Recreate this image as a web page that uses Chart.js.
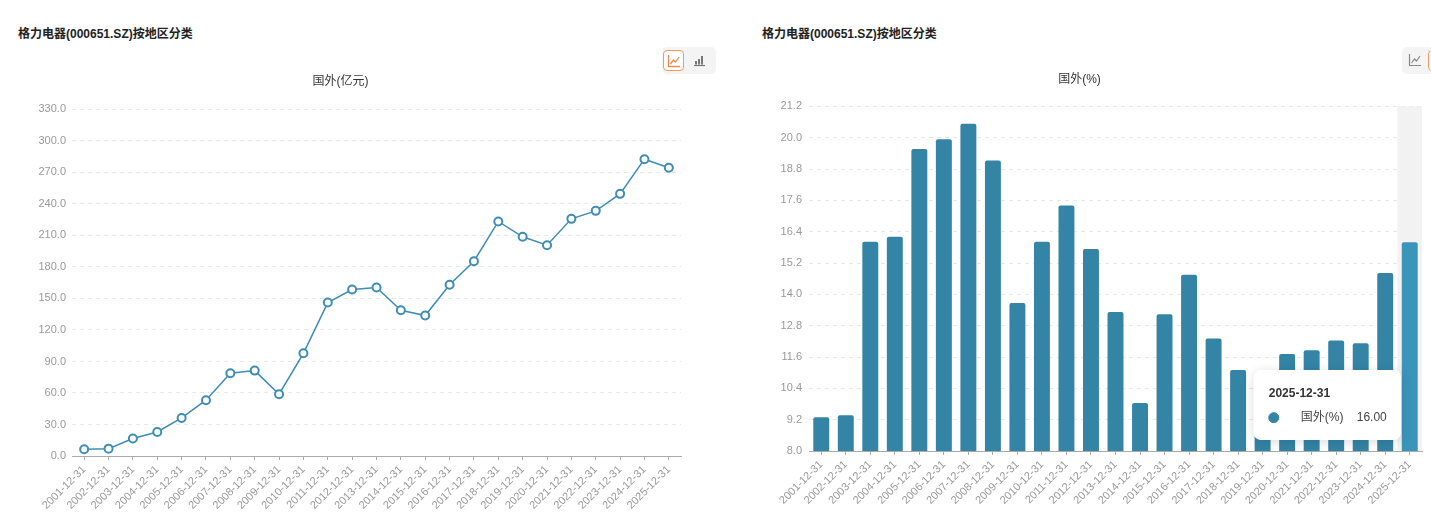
<!DOCTYPE html>
<html>
<head>
<meta charset="utf-8">
<script src="https://cdn.jsdelivr.net/npm/chart.js@4.4.1/dist/chart.umd.min.js"></script>
<style>
  body { margin: 0; width: 1431px; height: 515px; overflow: hidden; background: #fff; position: relative;
         font-family: "Helvetica Neue", Arial, "Liberation Sans", "Noto Sans CJK SC", sans-serif; }
  .title { position: absolute; top: 24px; font-size: 12px; font-weight: bold; color: #222; white-space: nowrap; }
  .tools { position: absolute; top: 47px; width: 54px; height: 27px; background: #f4f4f4; border-radius: 5px; }
  .btn { position: absolute; top: 3px; width: 19px; height: 19px; border-radius: 4px; }
  .btn.on { border: 1.5px solid #f49a5f; background: #fff; }
  .btn svg { position: absolute; left: 3px; top: 3px; }
  .panel { position: absolute; top: 60px; width: 720px; height: 455px; }
</style>
</head>
<body>
<div class="title" style="left:18px">格力电器(000651.SZ)按地区分类</div>
<div class="title" style="left:762px">格力电器(000651.SZ)按地区分类</div>

<div class="tools" style="left:662px">
  <div class="btn on" style="left:1px">
    <svg width="14" height="14" viewBox="0 0 14 14"><path d="M1.5 1v11.5H13" fill="none" stroke="#f08a4b" stroke-width="1.3"/><path d="M3.5 10l3-4 2 2 3.5-5" fill="none" stroke="#f08a4b" stroke-width="1.3"/></svg>
  </div>
  <div class="btn" style="left:27px">
    <svg width="14" height="14" viewBox="0 0 14 14"><path d="M2 12.5h11" stroke="#777" stroke-width="1.2"/><rect x="3" y="8" width="2" height="3.5" fill="#777"/><rect x="6" y="6" width="2" height="5.5" fill="#777"/><rect x="9" y="3" width="2" height="8.5" fill="#777"/></svg>
  </div>
</div>
<div class="tools" style="left:1402px">
  <div class="btn" style="left:3px">
    <svg width="14" height="14" viewBox="0 0 14 14"><path d="M1.5 1v11.5H13" fill="none" stroke="#888" stroke-width="1.2"/><path d="M3.5 10l3-4 2 2 3.5-5" fill="none" stroke="#888" stroke-width="1.2"/></svg>
  </div>
  <div class="btn on" style="left:26px">
    <svg width="14" height="14" viewBox="0 0 14 14"><path d="M2 12.5h11" stroke="#f08a4b" stroke-width="1.2"/><rect x="3" y="8" width="2" height="3.5" fill="#f08a4b"/><rect x="6" y="6" width="2" height="5.5" fill="#f08a4b"/><rect x="9" y="3" width="2" height="8.5" fill="#f08a4b"/></svg>
  </div>
</div>

<div class="panel" style="left:0px"><canvas id="amountChart"></canvas></div>
<div class="panel" style="left:737px"><canvas id="shareChart"></canvas></div>

<script>
// 报告期
const periods = ['2001-12-31', '2002-12-31', '2003-12-31', '2004-12-31', '2005-12-31', '2006-12-31',
  '2007-12-31', '2008-12-31', '2009-12-31', '2010-12-31', '2011-12-31', '2012-12-31', '2013-12-31',
  '2014-12-31', '2015-12-31', '2016-12-31', '2017-12-31', '2018-12-31', '2019-12-31', '2020-12-31',
  '2021-12-31', '2022-12-31', '2023-12-31', '2024-12-31', '2025-12-31'];

// 国外收入(亿元)
const overseasAmount = [6.4, 7.0, 16.6, 22.9, 36.2, 53.1, 78.8, 81.3, 58.8, 97.8, 146.1, 158.5, 160.4,
  138.8, 133.7, 163.0, 185.5, 223.3, 208.7, 200.7, 225.8, 233.4, 249.6, 282.6, 274.4];

// 国外占比(%)
const overseasShare = [9.29, 9.37, 16.02, 16.21, 19.57, 19.94, 20.54, 19.13, 13.67, 16.02, 17.40, 15.74,
  13.32, 9.84, 13.24, 14.75, 12.31, 11.10, 10.36, 11.72, 11.86, 12.23, 12.13, 14.82, 16.00];

// 纵轴刻度
const amountTicks = [0, 30, 60, 90, 120, 150, 180, 210, 240, 270, 300, 330];
const shareTicks = [8.0, 9.2, 10.4, 11.6, 12.8, 14.0, 15.2, 16.4, 17.6, 18.8, 20.0, 21.2];

const FONT = '"Helvetica Neue", Arial, "Liberation Sans", "Noto Sans CJK SC", sans-serif';
Chart.defaults.font.family = FONT;
Chart.defaults.animation = false;

function xAxis(offset, height) {
  return {
    offset: offset,
    grid: { drawOnChartArea: false, drawTicks: true, tickLength: 4, color: '#aaa', offset: false },
    border: { color: '#aaa' },
    ticks: { autoSkip: false, minRotation: 45, maxRotation: 45, padding: 3, color: '#999', font: { size: 11 } },
    afterFit: function(scale) { scale.height = height; }
  };
}

function yAxis(values, pad) {
  return {
    min: values[0],
    max: values[values.length - 1],
    grid: { color: '#e8e8e8', drawTicks: false },
    border: { display: false, dash: [4, 4] },
    ticks: { padding: pad, color: '#999', font: { size: 11 }, callback: v => Number(v).toFixed(1) },
    afterBuildTicks: function(scale) { scale.ticks = values.map(v => ({ value: v })); },
    afterFit: function(scale) { scale.width = 72; }
  };
}

// 左图: 折线
new Chart(document.getElementById('amountChart'), {
  type: 'line',
  data: {
    labels: periods,
    datasets: [{
      label: '国外(亿元)',
      data: overseasAmount,
      borderColor: '#3d8db6',
      borderWidth: 1.5,
      pointRadius: 4,
      pointBorderWidth: 2,
      pointBackgroundColor: '#fff',
      pointBorderColor: '#3d8db6',
      tension: 0
    }]
  },
  options: {
    responsive: true,
    maintainAspectRatio: false,
    events: [],
    layout: { padding: { left: 0, right: 39, top: 0, bottom: 0 } },
    plugins: {
      legend: { display: false },
      tooltip: { enabled: false },
      title: { display: true, text: '国外(亿元)', color: '#333', font: { size: 12, weight: 'normal' },
               padding: { top: 14, bottom: 21 } }
    },
    scales: { x: xAxis(true, 59), y: yAxis(amountTicks, 6) }
  }
});

// 右图: 柱状 + 悬停提示
Chart.Tooltip.positioners.barLeft = function(items, eventPosition) {
  if (!items.length) return false;
  const el = items[0].element;
  return { x: el.x - el.width / 2 - 1, y: eventPosition.y };
};

const hoverShadow = {
  id: 'hoverShadow',
  beforeDatasetsDraw(chart) {
    const act = chart.getActiveElements();
    if (!act.length) return;
    const x = chart.scales.x, area = chart.chartArea, ctx = chart.ctx;
    const band = x.width / periods.length;
    const cx = x.getPixelForValue(act[0].index);
    ctx.save();
    ctx.fillStyle = '#f2f2f2';
    ctx.fillRect(cx - band / 2, area.top, band, area.bottom - area.top);
    ctx.restore();
  },
  beforeTooltipDraw(chart, args) {
    const t = args.tooltip, ctx = chart.ctx;
    if (!t.opacity) return;
    ctx.save();
    ctx.shadowColor = 'rgba(0,0,0,0.14)';
    ctx.shadowBlur = 12;
    ctx.shadowOffsetY = 2;
    ctx.fillStyle = '#fff';
    ctx.beginPath();
    ctx.roundRect(t.x, t.y, t.width, t.height, 8);
    ctx.fill();
    ctx.restore();
  }
};

const shareChart = new Chart(document.getElementById('shareChart'), {
  type: 'bar',
  data: {
    labels: periods,
    datasets: [{
      label: '国外(%)',
      data: overseasShare,
      backgroundColor: '#3384a5',
      hoverBackgroundColor: '#3b94ba',
      borderRadius: { topLeft: 2, topRight: 2 },
      borderSkipped: 'bottom',
      categoryPercentage: 1,
      barPercentage: 0.65
    }]
  },
  plugins: [hoverShadow],
  options: {
    responsive: true,
    maintainAspectRatio: false,
    events: [],
    layout: { padding: { left: 0, right: 35, top: 0, bottom: 0 } },
    plugins: {
      legend: { display: false },
      title: { display: true, text: '国外(%)', color: '#333', font: { size: 12, weight: 'normal' },
               padding: { top: 12, bottom: 20 } },
      tooltip: {
        animation: false,
        position: 'barLeft',
        xAlign: 'right',
        yAlign: 'center',
        caretSize: 0,
        caretPadding: 0,
        backgroundColor: 'rgba(255,255,255,0.93)',
        titleColor: '#333',
        bodyColor: '#444',
        titleFont: { size: 12, weight: 'bold' },
        bodyFont: { size: 12 },
        padding: { top: 16, bottom: 15, left: 15, right: 14 },
        titleMarginBottom: 10,
        cornerRadius: 8,
        usePointStyle: true,
        boxWidth: 10,
        boxHeight: 10,
        boxPadding: 20,
        callbacks: {
          label: ctx => ctx.dataset.label + '    ' + Number(ctx.raw).toFixed(2),
          labelColor: () => ({ borderColor: '#3384a5', backgroundColor: '#3384a5', borderWidth: 0 }),
          labelPointStyle: () => ({ pointStyle: 'circle', rotation: 0 })
        }
      }
    },
    scales: { x: xAxis(true, 64), y: yAxis(shareTicks, 7) }
  }
});

const lastIdx = periods.length - 1;
shareChart.setActiveElements([{ datasetIndex: 0, index: lastIdx }]);
shareChart.tooltip.setActiveElements([{ datasetIndex: 0, index: lastIdx }], { x: 660, y: 345 });
shareChart.update();
</script>
</body>
</html>
